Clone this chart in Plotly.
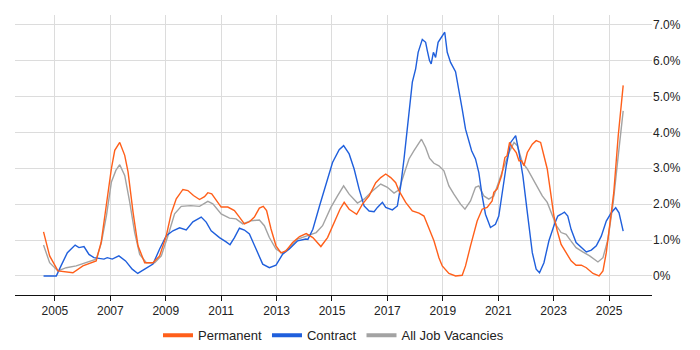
import plotly.graph_objects as go

perm_year = [2004.59, 2004.81, 2005.11, 2005.65, 2006.01, 2006.49, 2006.67, 2006.86, 2007.04, 2007.16,
             2007.34, 2007.52, 2007.64, 2007.82, 2008.0, 2008.24, 2008.54, 2008.78, 2009.02, 2009.2,
             2009.38, 2009.62, 2009.80, 2010.0, 2010.22, 2010.40, 2010.52, 2010.66, 2010.82, 2011.0,
             2011.24, 2011.48, 2011.66, 2011.84, 2012.02, 2012.2, 2012.38, 2012.52, 2012.64, 2012.8,
             2012.98, 2013.16, 2013.34, 2013.58, 2013.83, 2014.07, 2014.31, 2014.6, 2014.84, 2015.08,
             2015.29, 2015.44, 2015.62, 2015.89, 2016.1, 2016.34, 2016.58, 2016.76, 2016.94, 2017.12,
             2017.3, 2017.42, 2017.66, 2017.9, 2018.14, 2018.32, 2018.5, 2018.68, 2018.86, 2018.98,
             2019.22, 2019.46, 2019.7, 2019.82, 2020.0, 2020.24, 2020.42, 2020.6, 2020.78, 2020.84,
             2020.96, 2021.12, 2021.24, 2021.32, 2021.41, 2021.51, 2021.65, 2021.75, 2021.84, 2021.93,
             2022.05, 2022.23, 2022.37, 2022.53, 2022.65, 2022.77, 2022.89, 2023.01, 2023.13, 2023.27,
             2023.45, 2023.63, 2023.81, 2024.0, 2024.18, 2024.42, 2024.64, 2024.78, 2024.9, 2025.02,
             2025.17, 2025.33, 2025.51]
perm_pct = [1.23, 0.56, 0.14, 0.09, 0.28, 0.42, 0.94, 1.97, 3.0, 3.5,
            3.72, 3.36, 2.9, 1.78, 0.84, 0.37, 0.37, 0.56, 1.12, 1.75,
            2.15, 2.41, 2.38, 2.24, 2.13, 2.21, 2.32, 2.29, 2.10, 1.92,
            1.92, 1.82, 1.64, 1.45, 1.51, 1.64, 1.89, 1.94, 1.82, 1.31,
            0.84, 0.64, 0.70, 0.93, 1.10, 1.18, 1.07, 0.82, 1.07, 1.49,
            1.86, 2.05, 1.86, 1.72, 2.0, 2.23, 2.60, 2.74, 2.84, 2.74,
            2.60, 2.37, 2.05, 1.81, 1.75, 1.67, 1.30, 0.98, 0.51, 0.28,
            0.07, 0.0, 0.02, 0.28, 0.84, 1.53, 1.86, 1.91, 2.09, 2.33,
            2.42, 2.79, 3.30, 3.35, 3.72, 3.58, 3.44, 3.21, 3.21, 3.07,
            3.44, 3.67, 3.77, 3.72, 3.35, 2.98, 2.33, 1.67, 1.26, 0.88,
            0.65, 0.42, 0.30, 0.30, 0.23, 0.07, 0.0, 0.14, 0.65, 1.39,
            2.32, 3.90, 5.31]

contract_year = [2004.59, 2005.05, 2005.22, 2005.45, 2005.73, 2005.87, 2006.05, 2006.23, 2006.41, 2006.77,
                 2006.89, 2007.07, 2007.31, 2007.55, 2007.79, 2007.99, 2008.24, 2008.54, 2008.78, 2009.02,
                 2009.26, 2009.5, 2009.74, 2009.98, 2010.28, 2010.46, 2010.64, 2010.94, 2011.18, 2011.32,
                 2011.48, 2011.66, 2011.84, 2012.02, 2012.26, 2012.5, 2012.74, 2012.98, 2013.22, 2013.46,
                 2013.76, 2014.06, 2014.13, 2014.31, 2014.55, 2014.78, 2015.02, 2015.26, 2015.42, 2015.62,
                 2015.8, 2015.98, 2016.16, 2016.34, 2016.52, 2016.64, 2016.82, 2016.94, 2017.18, 2017.36,
                 2017.48, 2017.6, 2017.72, 2017.9, 2018.02, 2018.11, 2018.26, 2018.38, 2018.44, 2018.52,
                 2018.58, 2018.66, 2018.74, 2018.83, 2018.95, 2019.07, 2019.16, 2019.28, 2019.46, 2019.58,
                 2019.7, 2019.82, 2019.94, 2020.04, 2020.18, 2020.3, 2020.42, 2020.54, 2020.72, 2020.9,
                 2021.02, 2021.14, 2021.29, 2021.45, 2021.63, 2021.75, 2021.89, 2022.05, 2022.23, 2022.37,
                 2022.49, 2022.65, 2022.83, 2023.01, 2023.15, 2023.27, 2023.39, 2023.51, 2023.63, 2023.81,
                 2024.0, 2024.18, 2024.36, 2024.54, 2024.72, 2024.9, 2025.08, 2025.24, 2025.36, 2025.51]
contract_pct = [0.0, 0.0, 0.28, 0.65, 0.86, 0.79, 0.82, 0.60, 0.51, 0.47,
                0.51, 0.47, 0.56, 0.42, 0.19, 0.07, 0.19, 0.33, 0.75, 1.12,
                1.26, 1.34, 1.28, 1.51, 1.64, 1.50, 1.26, 1.07, 0.95, 0.87,
                1.07, 1.33, 1.28, 1.17, 0.75, 0.33, 0.23, 0.30, 0.61, 0.75,
                0.98, 1.03, 1.02, 1.30, 1.95, 2.51, 3.16, 3.52, 3.63, 3.40,
                2.98, 2.42, 1.95, 1.81, 1.79, 1.91, 2.05, 1.91, 1.84, 1.95,
                2.51, 3.26, 4.09, 5.40, 5.77, 6.23, 6.59, 6.51, 6.28, 6.0,
                5.91, 6.23, 6.09, 6.51, 6.65, 6.79, 6.23, 5.95, 5.69, 5.21,
                4.65, 4.09, 3.72, 3.49, 3.26, 2.88, 2.23, 1.72, 1.35, 1.44,
                1.67, 2.33, 3.07, 3.72, 3.91, 3.44, 2.79, 1.77, 0.65, 0.19,
                0.09, 0.37, 0.98, 1.40, 1.67, 1.72, 1.78, 1.67, 1.30, 0.93,
                0.79, 0.67, 0.72, 0.84, 1.11, 1.53, 1.76, 1.90, 1.76, 1.25]

all_year = [2004.59, 2004.81, 2005.11, 2005.41, 2005.77, 2006.13, 2006.49, 2006.67, 2006.86, 2007.04,
            2007.2, 2007.34, 2007.52, 2007.7, 2007.88, 2008.06, 2008.3, 2008.6, 2008.84, 2009.08,
            2009.32, 2009.56, 2009.9, 2010.22, 2010.52, 2010.7, 2011.0, 2011.3, 2011.54, 2011.78,
            2012.08, 2012.38, 2012.56, 2012.74, 2012.98, 2013.22, 2013.46, 2013.76, 2014.0, 2014.43,
            2014.66, 2014.96, 2015.2, 2015.42, 2015.62, 2015.92, 2016.16, 2016.46, 2016.76, 2017.0,
            2017.24, 2017.42, 2017.6, 2017.78, 2017.96, 2018.14, 2018.23, 2018.38, 2018.52, 2018.68,
            2018.86, 2019.04, 2019.22, 2019.4, 2019.64, 2019.8, 2020.0, 2020.18, 2020.3, 2020.48,
            2020.66, 2020.84, 2021.02, 2021.2, 2021.39, 2021.57, 2021.69, 2021.87, 2022.05, 2022.23,
            2022.41, 2022.59, 2022.77, 2022.93, 2023.1, 2023.27, 2023.45, 2023.63, 2023.81, 2024.05,
            2024.3, 2024.6, 2024.78, 2024.96, 2025.15, 2025.33, 2025.51]
all_pct = [0.86, 0.37, 0.14, 0.23, 0.28, 0.37, 0.47, 0.9, 1.68, 2.62,
           2.94, 3.1, 2.8, 2.06, 1.21, 0.6, 0.37, 0.37, 0.56, 1.12,
           1.73, 1.94, 1.96, 1.94, 2.08, 2.01, 1.73, 1.61, 1.59, 1.45,
           1.54, 1.56, 1.40, 1.07, 0.75, 0.63, 0.79, 1.03, 1.10, 1.21,
           1.40, 1.91, 2.23, 2.51, 2.28, 2.03, 2.14, 2.37, 2.56, 2.47,
           2.31, 2.4, 2.84, 3.26, 3.49, 3.72, 3.81, 3.58, 3.28, 3.14,
           3.07, 2.93, 2.51, 2.28, 2.0, 1.86, 2.09, 2.47, 2.51, 2.23,
           2.14, 2.23, 2.60, 3.02, 3.44, 3.72, 3.63, 3.16, 2.98, 2.74,
           2.47, 2.23, 2.05, 1.72, 1.40, 1.21, 1.16, 0.97, 0.79, 0.67,
           0.56, 0.39, 0.51, 1.02, 2.04, 3.34, 4.60]

series_names = ["Permanent", "Contract", "All Job Vacancies"]
series_colors = ["#ff5f1a", "#1f5fdc", "#a3a3a3"]

x_tick_years = [2005, 2007, 2009, 2011, 2013, 2015, 2017, 2019, 2021, 2023, 2025]
y_tick_vals = [0, 1, 2, 3, 4, 5, 6, 7]
y_tick_text = ["0%", "1.0%", "2.0%", "3.0%", "4.0%", "5.0%", "6.0%", "7.0%"]

fig = go.Figure()
# data lines (drawn gray first, orange on top)
for xs, ys, name, color in [(all_year, all_pct, series_names[2], series_colors[2]),
                            (contract_year, contract_pct, series_names[1], series_colors[1]),
                            (perm_year, perm_pct, series_names[0], series_colors[0])]:
    fig.add_trace(go.Scatter(x=xs, y=ys, name=name, mode="lines", showlegend=False,
                             line=dict(color=color, width=1.4)))
# legend entries with thick short swatches
for rank, (name, color) in enumerate(zip(series_names, series_colors)):
    fig.add_trace(go.Scatter(x=[None], y=[None], name=name, mode="lines",
                             line=dict(color=color, width=4), legendrank=rank + 1))

fig.update_layout(
    width=700, height=350,
    margin=dict(l=15, r=48, t=15, b=55, autoexpand=False),
    paper_bgcolor="white", plot_bgcolor="white",
    font=dict(family="Liberation Sans, Arial, sans-serif", size=12, color="#222222"),
    showlegend=True,
    legend=dict(orientation="h", x=0.5, xanchor="center", y=-0.09, yanchor="top",
                font=dict(size=13), itemwidth=30, traceorder="normal"),
    hovermode=False,
)
fig.update_xaxes(
    range=[2003.56, 2026.55], tickvals=x_tick_years, ticktext=[str(v) for v in x_tick_years],
    showgrid=True, gridcolor="#dcdcdc", gridwidth=1,
    showline=True, linecolor="#111111", linewidth=1,
    ticks="outside", ticklen=5, tickcolor="#111111", zeroline=False, automargin=False,
)
fig.update_yaxes(
    range=[-0.53, 7.27], side="right", tickvals=y_tick_vals, ticktext=y_tick_text,
    showgrid=True, gridcolor="#dcdcdc", gridwidth=1, zeroline=False, showline=False,
    ticks="", tickfont=dict(size=12), automargin=False,
)

fig.write_html("out.html", config={"displayModeBar": False},
               post_script="document.body.style.margin='0';")
